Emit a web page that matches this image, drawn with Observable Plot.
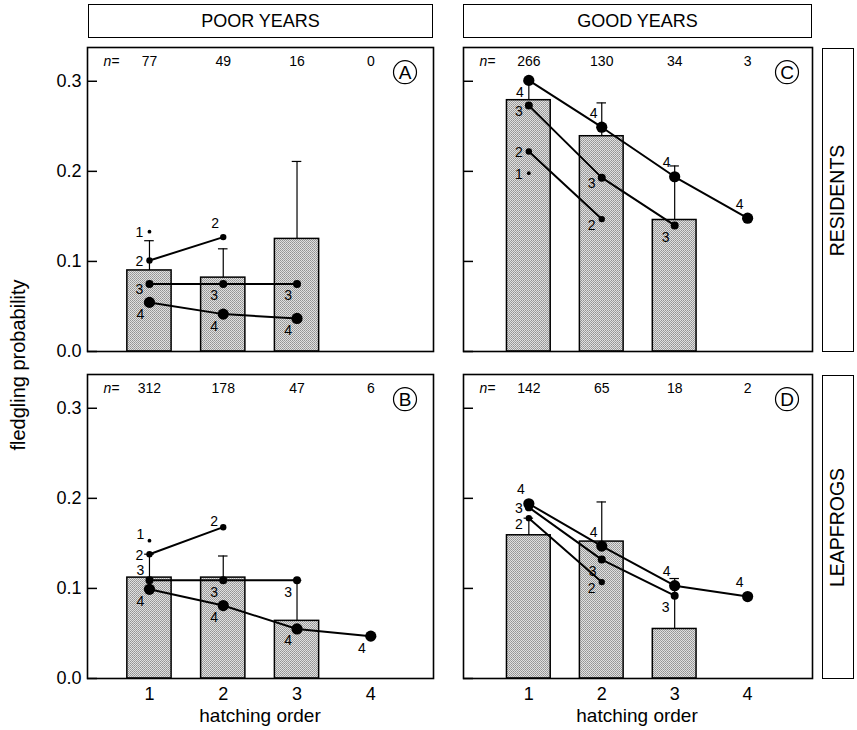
<!DOCTYPE html>
<html><head><meta charset="utf-8">
<script src="https://cdn.jsdelivr.net/npm/d3@7"></script>
<script src="https://cdn.jsdelivr.net/npm/@observablehq/plot@0.6"></script>
<style>
body{margin:0;background:#fff;}
#fig{position:relative;width:857px;height:730px;font-family:"Liberation Sans",Arial,Helvetica,sans-serif;color:#000;overflow:hidden;}
.box{position:absolute;border:1.5px solid #000;box-sizing:border-box;display:flex;align-items:center;justify-content:center;}
.vt{transform:rotate(-90deg);white-space:nowrap;}
.lab{position:absolute;white-space:nowrap;transform:translate(-50%,-50%);}
.panel{position:absolute;}
</style></head><body>
<svg width="0" height="0" style="position:absolute"><defs>
<pattern id="stip" width="2" height="2" patternUnits="userSpaceOnUse">
<rect width="2" height="2" fill="#e0e0e0"/><rect width="1" height="1" fill="#939393"/><rect x="1" y="1" width="1" height="1" fill="#a2a2a2"/>
</pattern></defs></svg>
<div id="fig"></div>
<script>
// ---------- data ----------
const hatchOrder = [1, 2, 3, 4];
const yTicks = [0, 0.1, 0.2, 0.3];
const columnTitles = ["POOR YEARS", "GOOD YEARS"];
const rowTitles = ["RESIDENTS", "LEAPFROGS"];
const yLabel = "fledgling probability";
const xLabel = "hatching order";

// sample sizes per hatching order
const nA = [77, 49, 16, 0];
const nB = [312, 178, 47, 6];
const nC = [266, 130, 34, 3];
const nD = [142, 65, 18, 2];

// bar means (hatching order 1..3) and upper error bar ends
const barA = [0.090, 0.082, 0.125], errA = [0.123, 0.114, 0.211];
const barB = [0.112, 0.112, 0.064], errB = [0.138, 0.136, 0.109];
const barC = [0.279, 0.239, 0.146], errC = [0.300, 0.276, 0.206];
const barD = [0.159, 0.152, 0.055], errD = [0.178, 0.196, 0.111];

// clutch-size series (clutch 1..4), values by hatching order
const A1 = [0.133], A2 = [0.101, 0.127], A3 = [0.075, 0.075, 0.075], A4 = [0.0545, 0.0415, 0.0367];
const B1 = [0.153], B2 = [0.138, 0.168], B3 = [0.109, 0.109, 0.109], B4 = [0.099, 0.081, 0.055, 0.047];
const C1 = [0.198], C2 = [0.222, 0.147], C3 = [0.273, 0.193, 0.140], C4 = [0.301, 0.249, 0.194, 0.148];
const D1 = [], D2 = [0.178, 0.107], D3 = [0.190, 0.132, 0.092], D4 = [0.194, 0.147, 0.103, 0.091];

// ---------- label placement codes (layout) ----------
const placeA = [["L"], ["L", "U"], ["l", "D", "D"], ["D", "D", "D"]];
const placeB = [["u"], ["L", "u"], ["m", "D", "D"], ["D", "D", "D", "D"]];
const placeC = [["L"], ["L", "l"], ["l", "l", "D"], ["D", "U", "U", "U"]];
const placeD = [[], ["l", "l"], ["L", "D", "D"], ["U", "U", "U", "U"]];
const placeStyle = {
  L: {dx: -10, dy: 1}, l: {dx: -10, dy: 6}, D: {dx: -9, dy: 12},
  U: {dx: -8, dy: -14}, u: {dx: -9, dy: -6}, m: {dx: -9, dy: -10}
};
const radius = {1: 1.9, 2: 3.2, 3: 4, 4: 5.6};

const panels = [
  {id: "A", n: nA, bar: barA, err: errA, series: [A1, A2, A3, A4], place: placeA, col: 0, row: 0},
  {id: "B", n: nB, bar: barB, err: errB, series: [B1, B2, B3, B4], place: placeB, col: 0, row: 1},
  {id: "C", n: nC, bar: barC, err: errC, series: [C1, C2, C3, C4], place: placeC, col: 1, row: 0},
  {id: "D", n: nD, bar: barD, err: errD, series: [D1, D2, D3, D4], place: placeD, col: 1, row: 1}
];

const fig = document.getElementById("fig");
const FONT = '"Liberation Sans", Arial, Helvetica, sans-serif';

function makePanel(def) {
  const left = def.col === 0;
  const bottom = def.row === 1;
  const xDom = left ? [0.16, 4.85] : [0.104, 4.89];
  const mL = left ? 87 : 2, mR = 2, mT = 1, mB = bottom ? 44 : 2;
  const width = left ? 435 : 353;
  const height = 304 + mT + mB;
  const pxPerUnit = (width - mL - mR) / (xDom[1] - xDom[0]);
  const tickU = 10 / pxPerUnit;
  const cdx = left ? -28.5 : -25.5;

  const bars = def.bar.map((v, i) => ({h: hatchOrder[i], v, e: def.err[i]}));
  const pts = [];
  def.series.forEach((s, ci) => s.forEach((p, i) =>
    pts.push({c: ci + 1, h: hatchOrder[i], p, place: def.place[ci][i]})));
  const linePts = pts.filter(d => d.c > 1);
  const nRec = def.n.map((n, i) => ({h: hatchOrder[i], n}));

  const marks = [
    Plot.rectY(bars, {x1: d => d.h - 0.3, x2: d => d.h + 0.3, y1: 0, y2: "v",
      fill: "url(#stip)", stroke: "#000", strokeWidth: 1.5}),
    Plot.ruleX(bars, {x: "h", y1: "v", y2: "e", stroke: "#000", strokeWidth: 1.2}),
    Plot.ruleY(bars, {y: "e", x1: d => d.h - 0.065, x2: d => d.h + 0.065, stroke: "#000", strokeWidth: 1.2}),
    Plot.line(linePts, {x: "h", y: "p", z: "c", stroke: "#000", strokeWidth: 2}),
    Plot.dot(pts, {x: "h", y: "p", r: d => radius[d.c], fill: "#000", stroke: null}),
    ...Object.entries(placeStyle).map(([code, st]) =>
      Plot.text(pts.filter(d => d.place === code),
        {x: "h", y: "p", text: d => String(d.c), dx: st.dx, dy: st.dy, fontSize: 14, fill: "#000"})),
    Plot.ruleY(yTicks, {y: d => d, x1: xDom[0], x2: xDom[0] + tickU, stroke: "#000", strokeWidth: 1.5}),
    Plot.text(nRec, {x: "h", text: d => String(d.n), frameAnchor: "top", dy: 14,
      lineAnchor: "middle", textAnchor: "middle", fontSize: 14}),
    Plot.text(["n="], {frameAnchor: "top-left", dx: 24, dy: 14, lineAnchor: "middle",
      textAnchor: "middle", fontSize: 14, fontStyle: "italic"}),
    Plot.dot([def.id], {frameAnchor: "top-right", dx: cdx, dy: 24.7, r: 11.5,
      stroke: "#000", fill: "#fff", strokeWidth: 1.2}),
    Plot.text([def.id], {frameAnchor: "top-right", dx: cdx, dy: 25.5, lineAnchor: "middle",
      textAnchor: "middle", fontSize: 19}),
    Plot.frame({stroke: "#000", strokeWidth: 1.6})
  ];
  if (left) marks.push(Plot.axisY({ticks: yTicks, tickSize: 0, tickPadding: 6,
    tickFormat: d3.format(".1f"), fontSize: 18, label: null}));
  if (bottom) marks.push(Plot.axisX({ticks: hatchOrder, tickSize: 0, tickPadding: 9,
    tickFormat: d => String(d), fontSize: 18, label: null}));

  const svg = Plot.plot({
    width, height, marginLeft: mL, marginRight: mR, marginTop: mT, marginBottom: mB,
    x: {type: "linear", domain: xDom, ...(bottom ? {} : {axis: null})},
    y: {type: "linear", domain: [0, 0.3375], ...(left ? {} : {axis: null})},
    r: {type: "identity"},
    style: {fontFamily: FONT, background: "transparent", color: "#000", overflow: "visible"},
    marks
  });
  svg.classList.add("panel");
  svg.style.left = (left ? 0 : 461) + "px";
  svg.style.top = (def.row === 0 ? 46 : 373) + "px";
  svg.style.position = "absolute";
  fig.appendChild(svg);
}
panels.forEach(makePanel);

// column header boxes
const colBoxes = [{x: 88, w: 345}, {x: 463, w: 349}];
columnTitles.forEach((t, i) => {
  const d = document.createElement("div");
  d.className = "box";
  Object.assign(d.style, {left: colBoxes[i].x + "px", top: "4px", width: colBoxes[i].w + "px", height: "34px", fontSize: "18px"});
  d.textContent = t;
  fig.appendChild(d);
});
// row header boxes
const rowBoxes = [{y: 48, h: 304}, {y: 375, h: 304}];
rowTitles.forEach((t, i) => {
  const d = document.createElement("div");
  d.className = "box";
  Object.assign(d.style, {left: "822px", top: rowBoxes[i].y + "px", width: "32px", height: rowBoxes[i].h + "px", fontSize: "19.5px"});
  const s = document.createElement("span");
  s.className = "vt";
  s.textContent = t;
  d.appendChild(s);
  fig.appendChild(d);
});
// axis titles
const yl = document.createElement("div");
yl.className = "lab";
Object.assign(yl.style, {left: "18px", top: "365px", fontSize: "20px", transform: "translate(-50%,-50%) rotate(-90deg)"});
yl.textContent = yLabel;
fig.appendChild(yl);
[260, 637].forEach(cx => {
  const d = document.createElement("div");
  d.className = "lab";
  Object.assign(d.style, {left: cx + "px", top: "716px", fontSize: "19px"});
  d.textContent = xLabel;
  fig.appendChild(d);
});
</script></body></html>
